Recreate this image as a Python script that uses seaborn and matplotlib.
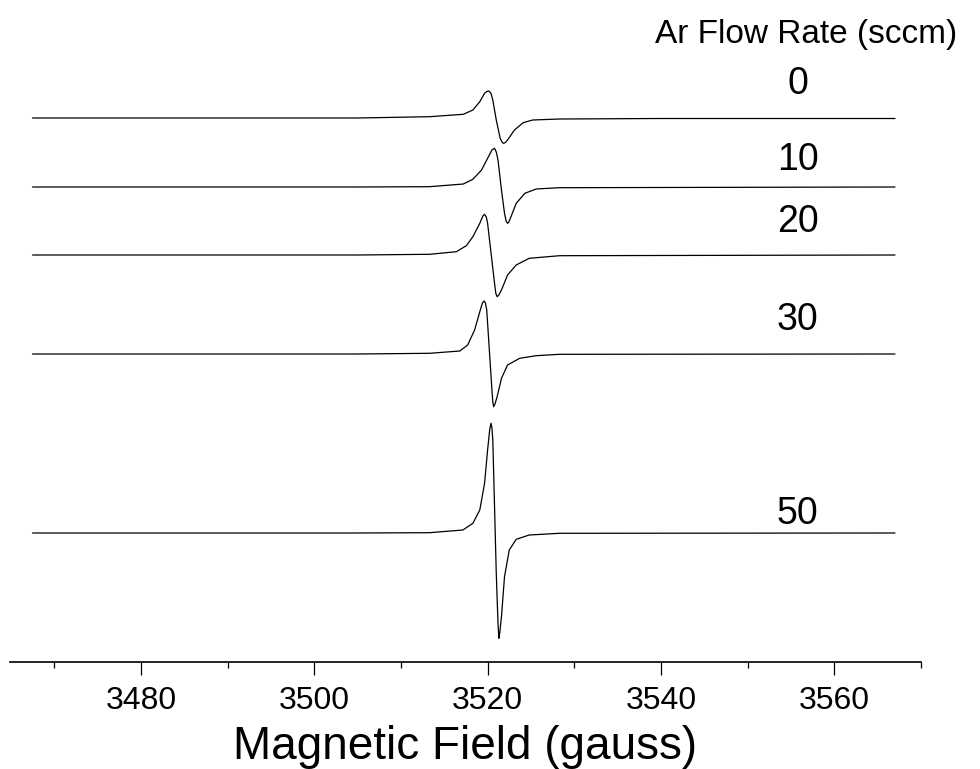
import matplotlib
matplotlib.use("Agg")
import matplotlib.pyplot as plt
import seaborn as sns
import pandas as pd
from matplotlib.ticker import MultipleLocator

# EPR spectra: field (gauss) and first-derivative signal (a.u.)
field_0 = [3467.5, 3505.0, 3513.3, 3517.2, 3518.3, 3519.1, 3519.65, 3519.9, 3520.15, 3520.4,
           3520.6, 3521.0, 3521.45, 3521.7, 3521.85, 3522.05, 3522.3, 3523.1, 3524.1, 3525.2,
           3528.3, 3540.0, 3567.0]
signal_0 = [0, 0, 1.3, 3.7, 8, 16.3, 24.7, 26.5, 27, 24.5,
            18, -2, -20.3, -24.5, -25.3, -24.5, -22, -12, -4.7, -2,
            -1, -0.5, -0.5]

field_10 = [3467.5, 3505.0, 3513.3, 3517.2, 3518.3, 3519.3, 3520.0, 3520.5, 3520.8, 3521.0,
            3521.2, 3521.6, 3521.95, 3522.15, 3522.3, 3522.45, 3522.7, 3523.3, 3524.3, 3525.6,
            3528.3, 3567.0]
signal_10 = [0, 0, 0.3, 3, 7.7, 17, 28.7, 37, 38.7, 35,
             27, -3, -26.3, -34.5, -36.3, -35, -29.7, -16.3, -6.3, -2,
             -0.7, 0]

field_20 = [3467.5, 3505.0, 3513.3, 3516.4, 3517.55, 3518.3, 3519.1, 3519.45, 3519.65, 3519.85,
            3520.0, 3520.4, 3520.8, 3520.95, 3521.1, 3521.3, 3521.6, 3522.3, 3523.3, 3524.8,
            3528.3, 3567.0]
signal_20 = [0, 0, 0.7, 3.3, 9.3, 18.3, 31.7, 39, 40.7, 38,
             31.7, 1.7, -28.3, -38.5, -41.7, -40, -35, -20, -10, -3.3,
             -0.7, 0]

field_30 = [3467.5, 3505.0, 3513.3, 3516.8, 3517.7, 3518.5, 3519.1, 3519.4, 3519.6, 3519.75,
            3519.9, 3520.2, 3520.5, 3520.6, 3520.7, 3520.85, 3521.1, 3521.6, 3522.3, 3523.7,
            3525.6, 3528.3, 3567.0]
signal_30 = [0, 0, 0.7, 3, 9, 24, 42.3, 51, 53, 51,
             44, 4, -36, -48, -52.7, -50, -42.7, -24.3, -11, -4.3,
             -1.7, -0.3, 0]

field_50 = [3467.5, 3505.0, 3513.3, 3517.15, 3518.3, 3519.1, 3519.65, 3520.0, 3520.25, 3520.4,
            3520.5, 3520.6, 3520.8, 3521.0, 3521.2, 3521.3, 3521.4, 3521.6, 3521.95, 3522.5,
            3523.3, 3524.8, 3528.3, 3567.0]
signal_50 = [0, 0, 0.3, 3, 9.7, 23, 49.7, 83, 104, 109.7,
             105, 93, 26.3, -40.3, -90.3, -105.3, -100, -83.7, -43.7, -17,
             -6.3, -2, -0.3, 0]

flow_rates = ["0", "10", "20", "30", "50"]
fields = [field_0, field_10, field_20, field_30, field_50]
signals = [signal_0, signal_10, signal_20, signal_30, signal_50]
offsets = [544, 475, 407, 308, 129]  # vertical stacking of the spectra

# layout: gap between each trace's baseline and its label
label_gap = [34.5, 27, 33.5, 33.5, 19]

sns.set_theme(style="white")
plt.rcParams["font.family"] = ["Liberation Sans", "DejaVu Sans"]
plt.rcParams["text.color"] = "black"
plt.rcParams["axes.labelcolor"] = "black"
plt.rcParams["xtick.color"] = "black"

fig = plt.figure(figsize=(9.8, 7.69), dpi=100)
ax = fig.add_axes([10 / 980, 107 / 769, 911 / 980, 662 / 769])

for rate, fx, sy, off, gap in zip(flow_rates, fields, signals, offsets, label_gap):
    df = pd.DataFrame({"field": fx, "signal": [v + off for v in sy]})
    sns.lineplot(data=df, x="field", y="signal", ax=ax, color="black",
                 linewidth=0.9, estimator=None, sort=False)
    ax.text(3555.8, off + gap, rate, ha="center", va="center", fontsize=27)

ax.text(3556.8, 627, "Ar Flow Rate (sccm)", ha="center", va="center", fontsize=24)

ax.set_xlim(3464.9, 3570)
ax.set_ylim(0, 662)
ax.set_yticks([])
ax.set_ylabel("")
ax.set_xlabel("Magnetic Field (gauss)", fontsize=33, labelpad=7)

for side in ["left", "right", "top"]:
    ax.spines[side].set_visible(False)
ax.spines["bottom"].set_color("black")
ax.spines["bottom"].set_linewidth(1.2)

ax.xaxis.set_major_locator(MultipleLocator(20))
ax.xaxis.set_minor_locator(MultipleLocator(10))
ax.set_xticks([3480, 3500, 3520, 3540, 3560])
ax.tick_params(axis="x", which="major", direction="out", length=9, width=0.9,
               color="black", labelsize=23, labelcolor="black", pad=8, bottom=True)
ax.tick_params(axis="x", which="minor", direction="out", length=4, width=0.9,
               color="black", bottom=True)

fig.savefig("out.png", dpi=100, facecolor="white")
